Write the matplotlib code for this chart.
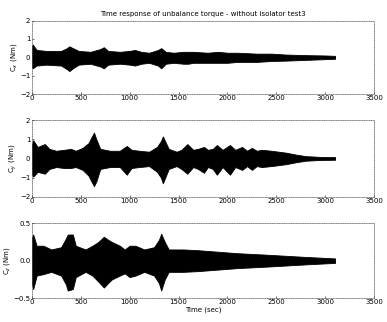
import numpy as np
import matplotlib.pyplot as plt

# envelope of the oscillating torque signals
tx = [0, 10, 50, 150, 300, 360, 385, 420, 480, 600, 700, 737, 780, 900, 1000, 1055,
      1120, 1200, 1290, 1323, 1370, 1450, 1550, 1600, 1650, 1800, 1900, 2000, 2100,
      2300, 2450, 2600, 2800, 3000, 3100]
cx_up = [0.55, 0.7, 0.4, 0.35, 0.35, 0.5, 0.6, 0.5, 0.35, 0.3, 0.45, 0.55, 0.35, 0.3,
         0.35, 0.4, 0.3, 0.25, 0.4, 0.5, 0.3, 0.25, 0.3, 0.3, 0.3, 0.25, 0.3, 0.25, 0.25,
         0.2, 0.2, 0.15, 0.12, 0.1, 0.08]
cx_lo = [-0.5, -0.6, -0.45, -0.4, -0.45, -0.65, -0.75, -0.6, -0.4, -0.35, -0.5, -0.6,
         -0.4, -0.35, -0.4, -0.45, -0.35, -0.3, -0.45, -0.6, -0.35, -0.3, -0.35, -0.35,
         -0.3, -0.3, -0.3, -0.3, -0.25, -0.25, -0.2, -0.18, -0.14, -0.1, -0.08]

ty = [0, 15, 60, 134, 180, 250, 330, 400, 450, 520, 580, 610, 636, 660, 700, 800, 900,
      971, 1020, 1100, 1200, 1280, 1320, 1340, 1400, 1480, 1530, 1590, 1650, 1700, 1760,
      1800, 1850, 1892, 1950, 2026, 2080, 2150, 2200, 2250, 2300, 2350, 2450, 2600,
      2700, 2800, 2950, 3100]
cy_up = [0.7, 0.95, 0.6, 0.75, 0.5, 0.4, 0.45, 0.5, 0.4, 0.55, 0.8, 1.1, 1.35, 1.0, 0.5,
         0.4, 0.4, 0.65, 0.45, 0.4, 0.35, 0.6, 0.9, 1.15, 0.5, 0.35, 0.45, 0.75, 0.45, 0.5,
         0.6, 0.45, 0.5, 0.7, 0.45, 0.7, 0.45, 0.6, 0.4, 0.55, 0.4, 0.45, 0.4, 0.3,
         0.2, 0.12, 0.08, 0.07]
cy_lo = [-0.8, -0.95, -0.7, -0.8, -0.55, -0.45, -0.5, -0.5, -0.45, -0.6, -0.9, -1.2,
         -1.45, -1.2, -0.55, -0.45, -0.45, -0.85, -0.5, -0.45, -0.4, -0.7, -1.0, -1.3,
         -0.55, -0.4, -0.55, -0.8, -0.45, -0.55, -0.75, -0.45, -0.55, -0.85, -0.45,
         -0.85, -0.45, -0.6, -0.4, -0.6, -0.4, -0.45, -0.4, -0.3, -0.2, -0.12, -0.08,
         -0.07]

tz = [0, 15, 50, 120, 200, 300, 350, 368, 420, 450, 550, 620, 680, 737, 780, 820, 900,
      950, 1000, 1060, 1150, 1250, 1300, 1323, 1360, 1400, 1550, 1700, 1900, 2100,
      2400, 2800, 3100]
cz_up = [0.3, 0.35, 0.2, 0.2, 0.15, 0.18, 0.3, 0.35, 0.35, 0.2, 0.15, 0.2, 0.25, 0.32,
         0.28, 0.25, 0.2, 0.15, 0.2, 0.2, 0.15, 0.18, 0.28, 0.36, 0.25, 0.15, 0.15, 0.14,
         0.12, 0.1, 0.08, 0.05, 0.03]
cz_lo = [-0.3, -0.38, -0.2, -0.18, -0.15, -0.2, -0.32, -0.4, -0.38, -0.22, -0.15, -0.2,
         -0.28, -0.36, -0.3, -0.25, -0.2, -0.17, -0.22, -0.2, -0.15, -0.2, -0.3, -0.4,
         -0.25, -0.15, -0.15, -0.14, -0.12, -0.1, -0.08, -0.05, -0.03]

xticks = [0, 500, 1000, 1500, 2000, 2500, 3000, 3500]

plt.rcParams['font.family'] = ['DejaVu Sans']
fig = plt.figure(figsize=(3.87, 3.22), dpi=100)

panels = [
    ([0.082, 0.708, 0.885, 0.228], tx, cx_up, cx_lo, (-2, 2), [-2, -1, 0, 1, 2], r'C$_x$ (Nm)'),
    ([0.082, 0.389, 0.885, 0.238], ty, cy_up, cy_lo, (-2, 2), [-2, -1, 0, 1, 2], r'C$_y$ (Nm)'),
    ([0.082, 0.0745, 0.885, 0.232], tz, cz_up, cz_lo, (-0.5, 0.5), [-0.5, 0, 0.5], r'C$_z$ (Nm)'),
]

axes = []
for rect, t, up, lo, ylim, yt, lab in panels:
    ax = fig.add_axes(rect)
    ax.fill_between(t, lo, up, color='black', lw=0.6, edgecolor='black')
    ax.set_xlim(0, 3500)
    ax.set_ylim(*ylim)
    ax.set_xticks(xticks)
    ax.set_yticks(yt)
    ax.tick_params(labelsize=5, length=1.5, width=0.4, pad=1, direction='in')
    ax.set_ylabel(lab, fontsize=5, labelpad=1)
    for s in ax.spines.values():
        s.set_linestyle((0, (1, 1.5)))
        s.set_linewidth(0.5)
        s.set_color('#555555')
    axes.append(ax)

axes[0].set_title('Time response of unbalance torque - without isolator test3',
                  fontsize=5, pad=3)
axes[2].set_xlabel('Time (sec)', fontsize=5, labelpad=1)

fig.savefig('out.png', dpi=100)
